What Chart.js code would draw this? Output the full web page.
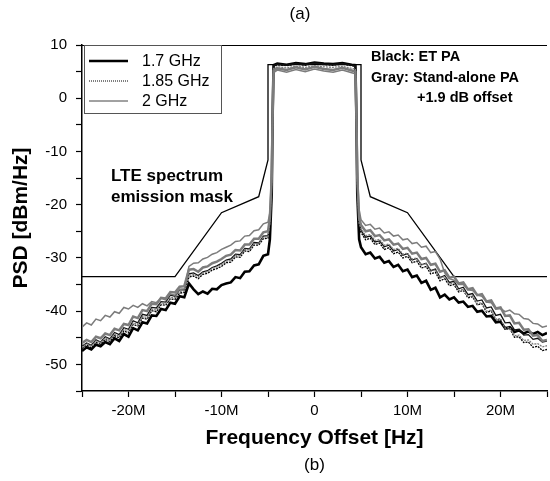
<!DOCTYPE html>
<html>
<head>
<meta charset="utf-8">
<script src="https://cdn.jsdelivr.net/npm/chart.js@4.4.1/dist/chart.umd.min.js"></script>
<style>
  html, body { margin: 0; padding: 0; background: #fff; overflow: hidden; }
  #wrap { width: 552px; height: 481px; }
</style>
</head>
<body>
<div id="wrap"><canvas id="c"></canvas></div>
<script>
// frequency offset in MHz
const freqOffset = [
  -25, -24.5, -24, -23.5, -23, -22.5, -22, -21.5, -21, -20.5,
  -20, -19.5, -19, -18.5, -18, -17.5, -17, -16.5, -16, -15.5,
  -15, -14.5, -14, -13.5, -13, -12.5, -12, -11.5, -11, -10.5,
  -10, -9.5, -9, -8.5, -8, -7.5, -7, -6.5, -6, -5.5, -5,
  -4.8, -4.6, -4.5, -4.4, -4, -3, -2, -1, 0, 1, 2, 3, 4, 4.4, 4.5, 4.6, 4.8,
  5, 5.5, 6, 6.5, 7, 7.5, 8, 8.5, 9, 9.5,
  10, 10.5, 11, 11.5, 12, 12.5, 13, 13.5, 14, 14.5,
  15, 15.5, 16, 16.5, 17, 17.5, 18, 18.5, 19, 19.5,
  20, 20.5, 21, 21.5, 22, 22.5, 23, 23.5, 24, 24.5, 25
];

// ET PA (black)
const et17 = [
  -47.5, -46.8, -47.2, -46.3, -46.6, -45.8, -46.2, -45.1, -45.6, -44.3,
  -44.8, -43.2, -43.6, -42.1, -42.3, -40.8, -40.9, -39.6, -39.8, -38.4,
  -38.6, -37.2, -37.4, -34.8, -35.9, -36.8, -36.3, -36.7, -35.8, -35.9,
  -35.1, -34.8, -34.6, -33.6, -33.8, -32.6, -32.5, -31.4, -31.2, -29.6, -29.3,
  -26.5, -18, -3, 6.2, 6.5, 6.3, 6.6, 6.4, 6.7, 6.5, 6.4, 6.6, 6.3, 6.2, -3, -18, -26.5,
  -28.0, -29.3, -29.0, -30.1, -29.8, -30.9, -30.6, -31.7, -31.3, -32.5,
  -32.2, -33.6, -33.3, -34.7, -34.3, -36.0, -35.6, -37.4, -36.9, -37.8,
  -37.4, -38.4, -38.2, -39.2, -39.0, -40.1, -39.9, -41.0, -40.9, -42.1,
  -42.0, -43.2, -43.0, -43.9, -43.6, -44.2, -43.8, -44.3, -43.9, -44.5, -44.1
];
const et185 = [
  -47.0, -46.4, -46.9, -45.9, -46.2, -45.3, -45.7, -44.6, -45.0, -43.7,
  -44.1, -42.5, -42.8, -41.3, -41.5, -39.9, -40.1, -38.8, -38.9, -37.7,
  -37.8, -36.6, -36.5, -33.6, -33.4, -33.9, -33.1, -32.9, -32.3, -32.0,
  -31.6, -30.9, -30.8, -29.8, -29.9, -28.7, -28.8, -27.6, -27.6, -26.4, -26.3,
  -24, -16, -3, 6.0, 6.3, 6.1, 6.4, 6.2, 6.5, 6.3, 6.2, 6.4, 6.1, 6.0, -3, -16, -24,
  -25.2, -26.6, -26.3, -27.5, -27.2, -28.4, -28.1, -29.2, -28.9, -30.0,
  -29.7, -30.9, -30.6, -31.9, -31.6, -33.0, -32.7, -34.3, -33.9, -35.2,
  -35.0, -36.4, -36.1, -37.5, -37.3, -38.8, -38.6, -40.2, -40.0, -41.7,
  -41.6, -43.4, -43.3, -44.9, -44.8, -45.9, -45.8, -46.8, -46.6, -47.4, -47.2
];
const et20 = [
  -46.6, -46.0, -46.4, -45.4, -45.8, -44.8, -45.2, -44.0, -44.4, -43.1,
  -43.4, -41.8, -42.2, -40.6, -40.8, -39.3, -39.4, -38.2, -38.3, -37.0,
  -37.2, -36.0, -36.0, -33.0, -32.8, -33.3, -32.6, -32.4, -31.8, -31.5,
  -31.0, -30.4, -30.2, -29.3, -29.4, -28.2, -28.3, -27.1, -27.2, -25.9, -25.8,
  -23.5, -15.5, -2.5, 6.1, 6.4, 6.2, 6.5, 6.3, 6.6, 6.4, 6.3, 6.5, 6.2, 6.1, -2.5, -15.5, -23.5,
  -24.8, -26.1, -25.9, -27.0, -26.8, -27.9, -27.6, -28.7, -28.4, -29.5,
  -29.2, -30.4, -30.1, -31.3, -31.0, -32.4, -32.1, -33.7, -33.3, -34.6,
  -34.4, -35.8, -35.5, -36.9, -36.7, -38.1, -37.9, -39.4, -39.2, -40.8,
  -40.6, -42.2, -42.1, -43.5, -43.4, -44.5, -44.4, -45.3, -45.1, -45.8, -45.6
];

// Stand-alone PA +1.9 dB (gray)
const sa17 = [
  -46.0, -45.4, -45.8, -44.8, -45.1, -44.2, -44.5, -43.3, -43.6, -42.4,
  -42.6, -41.0, -41.3, -39.8, -40.0, -38.6, -38.7, -37.5, -37.6, -36.4,
  -36.5, -35.4, -35.3, -32.2, -32.1, -32.6, -31.8, -31.6, -31.0, -30.7,
  -30.2, -29.6, -29.4, -28.5, -28.6, -27.5, -27.5, -26.4, -26.4, -25.2, -25.0,
  -22.5, -15, -2.5, 5.2, 5.6, 5.3, 5.8, 5.4, 5.9, 5.5, 5.3, 5.7, 5.2, 5.0, -2.5, -15, -22.5,
  -23.8, -25.0, -24.8, -25.9, -25.7, -26.7, -26.5, -27.5, -27.3, -28.3,
  -28.1, -29.2, -29.0, -30.2, -30.0, -31.3, -31.1, -32.6, -32.3, -33.7,
  -33.5, -34.8, -34.6, -35.9, -35.7, -37.0, -36.8, -38.2, -38.0, -39.5,
  -39.3, -40.9, -40.8, -42.3, -42.2, -43.5, -43.4, -44.6, -44.5, -45.6, -45.4
];
const sa185 = [
  -46.8, -46.1, -46.6, -45.6, -45.9, -45.0, -45.4, -44.3, -44.7, -43.4,
  -43.8, -42.2, -42.5, -41.0, -41.2, -39.6, -39.8, -38.5, -38.6, -37.4,
  -37.5, -36.3, -36.2, -33.3, -33.1, -33.6, -32.8, -32.6, -32.0, -31.7,
  -31.3, -30.6, -30.5, -29.5, -29.6, -28.4, -28.5, -27.3, -27.3, -26.1, -26.0,
  -23.5, -15.5, -3, 5.6, 5.9, 5.7, 6.0, 5.8, 6.1, 5.9, 5.8, 6.0, 5.6, 5.5, -3, -15.5, -23.5,
  -24.5, -25.8, -25.6, -26.7, -26.5, -27.6, -27.4, -28.4, -28.2, -29.3,
  -29.1, -30.2, -30.0, -31.3, -31.1, -32.5, -32.2, -33.8, -33.5, -34.9,
  -34.7, -36.1, -35.9, -37.3, -37.1, -38.6, -38.4, -40.0, -39.8, -41.5,
  -41.4, -43.2, -43.1, -44.6, -44.5, -45.5, -45.4, -46.2, -46.1, -46.7, -46.5
];
const sa20 = [
  -43.0, -42.2, -42.6, -41.5, -41.8, -40.8, -41.1, -40.1, -40.4, -39.3,
  -39.6, -38.9, -39.3, -38.6, -39.0, -38.2, -38.4, -37.6, -37.9, -36.8,
  -37.0, -35.9, -35.8, -31.6, -31.0, -30.9, -30.2, -29.9, -29.3, -29.0,
  -28.4, -28.0, -27.6, -26.9, -26.8, -25.9, -25.8, -24.9, -24.7, -23.6, -23.3,
  -21.5, -13.5, -2, 4.8, 5.3, 4.9, 5.4, 5.0, 5.5, 5.1, 4.9, 5.3, 4.8, 4.6, -2, -13.5, -21,
  -22.8, -23.9, -23.7, -24.6, -24.4, -25.3, -25.1, -25.9, -25.7, -26.6,
  -26.4, -27.3, -27.1, -28.0, -27.8, -29.0, -28.8, -30.2, -32.8, -33.9,
  -34.2, -35.0, -35.0, -36.0, -36.1, -37.0, -37.2, -38.3, -38.4, -39.6,
  -39.5, -40.1, -39.8, -40.5, -40.6, -41.4, -41.5, -42.3, -42.4, -43.0, -42.8
];

// LTE spectrum emission mask
const maskX = [-25, -15, -10, -6, -5, -5, 5, 5, 6, 10, 15, 25];
const maskY = [-33.5, -33.5, -21.5, -18.5, -11.6, 6.3, 6.3, -11.6, -18.5, -21.5, -33.5, -33.5];

const legendNames = ['1.7 GHz', '1.85 GHz', '2 GHz'];

const FONT = '"Liberation Sans", Arial, sans-serif';
const GRAY = '#7c7c7c';

function pts(xs, ys) {
  return xs.map((x, i) => ({ x: x, y: ys[i] }));
}

function trace(label, ys, color, width, dash) {
  return {
    label: label,
    data: pts(freqOffset, ys),
    borderColor: color,
    borderWidth: width,
    borderDash: dash || [],
    pointRadius: 0,
    tension: 0,
    fill: false
  };
}

const extras = {
  id: 'extras',
  afterDraw(chart) {
    const ctx = chart.ctx;
    const a = chart.chartArea;
    const xs = chart.scales.x;
    ctx.save();
    // top frame line
    ctx.strokeStyle = '#000';
    ctx.lineWidth = 1.2;
    ctx.beginPath();
    ctx.moveTo(a.left, a.top + 0.5);
    ctx.lineTo(a.right, a.top + 0.5);
    ctx.stroke();

    // legend box
    ctx.fillStyle = '#fff';
    ctx.fillRect(84, 45, 137, 68);
    ctx.strokeStyle = '#555';
    ctx.lineWidth = 1;
    ctx.strokeRect(84.5, 45.5, 137, 68);
    const rows = [61, 81, 101];
    const styles = [[2.5, [], '#000'], [1, [1, 1], '#000'], [1, [], '#444']];
    ctx.font = '16px ' + FONT;
    ctx.textBaseline = 'middle';
    ctx.textAlign = 'left';
    rows.forEach((y, i) => {
      ctx.strokeStyle = styles[i][2];
      ctx.lineWidth = styles[i][0];
      ctx.setLineDash(styles[i][1]);
      ctx.beginPath();
      ctx.moveTo(89, y);
      ctx.lineTo(128, y);
      ctx.stroke();
      ctx.setLineDash([]);
      ctx.fillStyle = '#000';
      ctx.fillText(legendNames[i], 142, y + 1);
    });

    // annotations
    ctx.font = 'bold 14.5px ' + FONT;
    ctx.fillStyle = '#000';
    ctx.fillText('Black: ET PA', 371, 57);
    ctx.fillText('Gray: Stand-alone PA', 371, 78);
    ctx.fillText('+1.9 dB offset', 417, 98);
    ctx.font = 'bold 17px ' + FONT;
    ctx.fillText('LTE spectrum', 111, 176);
    ctx.fillText('emission mask', 111, 197);

    // axis titles
    ctx.font = 'bold 21px ' + FONT;
    ctx.textAlign = 'center';
    ctx.fillText('Frequency Offset [Hz]', xs.getPixelForValue(0), 438);
    ctx.save();
    ctx.translate(21, (a.top + a.bottom) / 2);
    ctx.rotate(-Math.PI / 2);
    ctx.fillText('PSD [dBm/Hz]', 0, 0);
    ctx.restore();

    // captions
    ctx.font = '17px ' + FONT;
    ctx.fillText('(a)', 300, 14);
    ctx.fillText('(b)', xs.getPixelForValue(0), 465);
    ctx.restore();
  }
};

new Chart(document.getElementById('c'), {
  type: 'line',
  data: {
    datasets: [
      trace('SA 2 GHz', sa20, GRAY, 1.5),
      trace('SA 1.85 GHz', sa185, GRAY, 1.3, [2, 1]),
      trace('SA 1.7 GHz', sa17, GRAY, 2.5),
      trace('ET 2 GHz', et20, '#111', 1.3),
      trace('ET 1.85 GHz', et185, '#000', 1.3, [2, 1]),
      trace('ET 1.7 GHz', et17, '#000', 2.6),
      {
        label: 'mask',
        data: pts(maskX, maskY),
        borderColor: '#000',
        borderWidth: 1.3,
        pointRadius: 0,
        tension: 0,
        fill: false
      }
    ]
  },
  options: {
    responsive: true,
    maintainAspectRatio: false,
    animation: false,
    layout: { padding: { top: 45, right: 0, left: 0, bottom: 0 } },
    plugins: { legend: { display: false }, tooltip: { enabled: false } },
    scales: {
      x: {
        type: 'linear',
        min: -25,
        max: 25,
        afterFit(s) { s.height = 90; },
        ticks: {
          stepSize: 5,
          autoSkip: false,
          maxRotation: 0,
          padding: 5,
          color: '#000',
          font: { family: FONT, size: 15 },
          callback: v => (v % 10 === 0 ? (v === 0 ? '0' : v + 'M') : '')
        },
        grid: { drawOnChartArea: false, drawTicks: true, tickLength: 6, color: '#000', tickWidth: 1.2 },
        border: { color: '#000', width: 1.5 }
      },
      y: {
        min: -55,
        max: 10,
        afterFit(s) { s.width = 82; },
        ticks: {
          stepSize: 5,
          autoSkip: false,
          padding: 9,
          color: '#000',
          font: { family: FONT, size: 15 },
          callback: v => (v % 10 === 0 ? String(v) : '')
        },
        grid: { drawOnChartArea: false, drawTicks: true, tickLength: 6, color: '#000', tickWidth: 1.2 },
        border: { color: '#000', width: 1.5 }
      }
    }
  },
  plugins: [extras]
});
</script>
</body>
</html>
